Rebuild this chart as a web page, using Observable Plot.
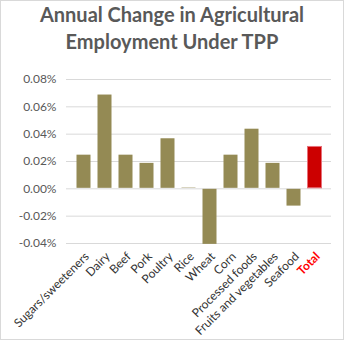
<!DOCTYPE html>
<html><head><meta charset="utf-8">
<script src="https://cdn.jsdelivr.net/npm/d3@7"></script>
<script src="https://cdn.jsdelivr.net/npm/@observablehq/plot@0.6"></script>
<style>
body{margin:0;background:#fff;}
#wrap{position:relative;width:344px;height:340px;box-sizing:border-box;border:1px solid #d9d9d9;overflow:hidden;font-family:Lato,sans-serif;}
#title{height:58px;padding-top:0px;box-sizing:border-box;text-align:center;font-weight:bold;font-size:20px;line-height:27px;color:#595959;}
svg{display:block;}
</style></head><body>
<div id="wrap"><div id="title">Annual Change in Agricultural<br>Employment Under TPP</div><div id="chart"></div></div>
<script>
const categories = ["Sugars/sweeteners","Dairy","Beef","Pork","Poultry","Rice","Wheat","Corn","Processed foods","Fruits and vegetables","Seafood","Total"];
const values = [0.025,0.069,0.025,0.019,0.037,0.001,-0.041,0.025,0.044,0.019,-0.013,0.031];
const yTicks = [-0.04,-0.02,0,0.02,0.04,0.06,0.08];
const data = categories.map((c,i)=>({cat:c,value:values[i]}));
const chart = Plot.plot({
  width:342, height:280,
  marginTop:20, marginBottom:96, marginLeft:65, marginRight:12,
  style:{fontFamily:"Lato,sans-serif",fontSize:"11px",color:"#595959",background:"#fff"},
  x:{domain:categories,padding:0.3,label:null},
  y:{domain:[-0.04,0.08],label:null},
  marks:[
    Plot.gridY(yTicks,{stroke:"#d9d9d9",strokeOpacity:1}),
    Plot.barY(data,{x:"cat",y:"value",fill:d=>d.cat==="Total"?"#cc0000":"#948a54",stroke:d=>d.cat==="Total"?"#e8707a":"none",strokeWidth:1,inset:0.5}),
    Plot.axisY(yTicks,{tickSize:0,tickPadding:10,tickFormat:d=>d.toFixed(2)+"%",fill:"#595959",fontSize:12}),
    Plot.axisX({tickSize:0,tickPadding:11,dx:3,tickRotate:-45,fill:d=>d==="Total"?"#ff0000":"#333333",fontSize:12})
  ]
});
d3.select(chart).selectAll("text").filter(function(){return this.textContent==="Total";}).attr("font-weight","bold").style("font-weight","bold");
document.getElementById("chart").appendChild(chart);
</script></body></html>
